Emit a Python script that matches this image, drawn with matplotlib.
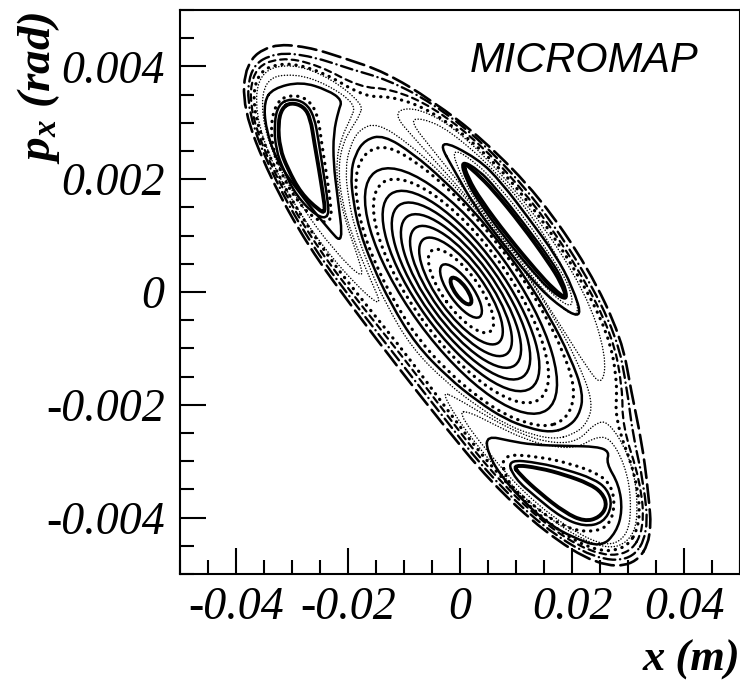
import numpy as np
import matplotlib
matplotlib.use("Agg")
import matplotlib.pyplot as plt
from matplotlib.patches import Circle, PathPatch
from matplotlib.path import Path
from matplotlib.transforms import Affine2D
from matplotlib.ticker import MultipleLocator, FixedLocator, FixedFormatter

plt.rcParams["axes.unicode_minus"] = False
plt.rcParams["mathtext.fontset"] = "custom"
plt.rcParams["mathtext.it"] = "Liberation Serif:italic:bold"
plt.rcParams["mathtext.rm"] = "Liberation Serif:bold"

# Tori around the fixed point are given in normalised phase space
# (amplitude, phase in deg); NORM maps them onto (x [m], px [rad]).
NORM = [[0.588 / 5625, 0.291 / 5625, 0.000178],
        [-0.809 / 56500, 0.212 / 56500, 0.0000177],
        [0.0, 0.0, 1.0]]

core_r = [16, 32, 50, 64, 78, 92, 106, 120, 134, 147]
core_style = ["thick", "solid", "dotted", "solid", "solid", "solid", "solid",
              "solid", "dotted", "solid"]

phase = [5, 20, 35, 50, 65, 80, 95, 110, 125, 140, 155, 170,
         185, 200, 215, 230, 245, 260, 275, 290, 305, 320, 335, 350]
t1_r = [166, 171, 176, 171, 166, 163, 161, 163, 166, 171, 176, 171,
        166, 163, 161, 163, 166, 171, 176, 171, 166, 163, 161, 163]
t2_r = [174, 182, 190, 182, 174, 170, 167, 170, 174, 182, 190, 182,
        174, 170, 167, 170, 174, 182, 190, 182, 174, 170, 167, 170]
t3_r = [183, 194, 205, 194, 183, 178, 175, 178, 183, 194, 205, 194,
        183, 178, 175, 178, 183, 194, 205, 194, 183, 178, 175, 178]
s2_r = [296, 270, 238, 262, 290, 298, 302, 298, 282, 258, 236, 264,
        292, 317, 322, 300, 270, 240, 228, 240, 270, 300, 316, 312]
s3_r = [302, 276, 250, 270, 297, 306, 310, 305, 290, 268, 248, 272,
        298, 322, 327, 306, 280, 252, 240, 250, 280, 306, 320, 318]
o2_r = [308, 282, 266, 278, 306, 316, 320, 312, 296, 280, 270, 282,
        304, 326, 331, 312, 290, 264, 254, 262, 290, 313, 326, 324]
o1_r = [314, 288, 280, 285, 315, 330, 333, 318, 300, 290, 283, 294,
        314, 332, 338, 320, 300, 276, 268, 276, 300, 320, 334, 330]

# separatrix lobes of the three islands (phase deg, amplitude)
ula_th = [162, 172, 184, 198, 212, 224, 234, 244, 252, 244, 230, 215, 200, 185, 172]
ula_r = [224, 250, 275, 303, 308, 298, 275, 245, 212, 198, 193, 191, 192, 196, 206]
ulb_th = [158, 168, 182, 198, 213, 226, 238, 250, 262, 250, 235, 220, 204, 188, 174, 164]
ulb_r = [226, 256, 285, 312, 318, 306, 282, 250, 208, 195, 190, 188, 188, 191, 198, 210]
ura_th = [67, 75, 90, 105, 120, 130, 136, 128, 115, 100, 85, 72]
ura_r = [238, 266, 284, 286, 274, 254, 234, 212, 192, 182, 183, 200]
urb_th = [45, 58, 75, 95, 115, 130, 144, 135, 120, 100, 80, 62, 50]
urb_r = [228, 262, 290, 296, 292, 270, 231, 206, 188, 179, 180, 190, 208]
loa_th = [295, 305, 320, 340, 355, 370, 380, 385, 378, 362, 345, 328, 312, 300]
loa_r = [226, 250, 284, 309, 300, 272, 252, 228, 208, 196, 187, 186, 192, 206]
lob_th = [288, 300, 318, 340, 358, 375, 386, 392, 384, 366, 348, 328, 308, 294]
lob_r = [222, 254, 292, 314, 304, 276, 256, 226, 204, 192, 183, 181, 188, 204]

# island tori measured directly in x [cm], px [mrad]
ul1_u = [-3.02, -2.79, -2.67, -2.60, -2.52, -2.45, -2.40, -2.52, -2.84, -3.08, -3.22, -3.25, -3.18]
ul1_v = [3.36, 3.29, 3.08, 2.64, 2.19, 1.75, 1.40, 1.45, 1.75, 2.19, 2.55, 2.99, 3.26]
ul2_u = [-3.02, -2.76, -2.60, -2.52, -2.45, -2.38, -2.33, -2.56, -2.92, -3.15, -3.29, -3.32, -3.24]
ul2_v = [3.43, 3.36, 3.11, 2.64, 2.19, 1.75, 1.31, 1.34, 1.70, 2.16, 2.53, 2.99, 3.33]
ul3_u = [-3.02, -2.72, -2.54, -2.47, -2.40, -2.33, -2.28, -2.58, -2.95, -3.20, -3.34, -3.38, -3.27]
ul3_v = [3.50, 3.43, 3.15, 2.64, 2.19, 1.73, 1.22, 1.27, 1.66, 2.12, 2.51, 2.99, 3.38]
ul4_u = [-3.34, -2.84, -2.36, -2.10, -2.17, -2.26, -2.26, -2.19, -2.08, -2.36, -2.84, -3.27, -3.47, -3.50]
ul4_v = [3.61, 3.73, 3.58, 3.40, 3.22, 2.81, 2.28, 1.72, 0.83, 1.13, 1.72, 2.32, 2.90, 3.38]

ur1_u = [0.04, 0.28, 0.60, 1.10, 1.58, 1.81, 1.92, 1.67, 1.37, 0.85, 0.37, 0.14]
ur1_v = [2.32, 2.12, 1.80, 1.19, 0.53, 0.16, -0.14, 0.05, 0.37, 0.99, 1.63, 2.02]
ur2_u = [0.00, 0.34, 0.64, 1.14, 1.62, 1.85, 1.94, 1.62, 1.32, 0.80, 0.34, 0.11]
ur2_v = [2.35, 2.16, 1.84, 1.22, 0.57, 0.19, -0.18, 0.02, 0.34, 0.96, 1.59, 1.98]
ur3_u = [-0.16, 0.28, 0.69, 1.19, 1.65, 1.96, 2.03, 1.69, 1.30, 0.76, 0.30, 0.00]
ur3_v = [2.57, 2.30, 1.88, 1.26, 0.60, 0.11, -0.30, -0.09, 0.34, 0.94, 1.58, 2.09]
ur4_u = [-0.43, 0.32, 0.75, 1.24, 1.71, 2.01, 2.20, 1.66, 1.23, 0.73, 0.25, -0.06]
ur4_v = [2.74, 2.37, 1.93, 1.29, 0.65, 0.09, -0.51, -0.17, 0.28, 0.90, 1.54, 2.08]

lo1_u = [0.94, 1.42, 1.87, 2.31, 2.54, 2.63, 2.49, 2.22, 1.87, 1.42, 1.07]
lo1_v = [-3.06, -3.12, -3.24, -3.40, -3.56, -3.79, -4.00, -4.07, -3.91, -3.56, -3.24]
lo2_u = [0.84, 1.42, 1.90, 2.38, 2.63, 2.72, 2.56, 2.22, 1.81, 1.35, 0.98]
lo2_v = [-2.97, -3.03, -3.15, -3.31, -3.49, -3.79, -4.09, -4.16, -4.00, -3.63, -3.31]
lo3_u = [0.71, 1.42, 1.96, 2.47, 2.70, 2.77, 2.65, 2.22, 1.74, 1.24, 0.85]
lo3_v = [-2.87, -2.92, -3.04, -3.22, -3.43, -3.79, -4.18, -4.27, -4.11, -3.73, -3.40]
lo4_u = [0.48, 0.89, 1.30, 1.90, 2.45, 2.67, 2.61, 2.84, 2.90, 2.79, 2.52, 2.01, 1.60, 1.19, 0.71, 0.48]
lo4_v = [-2.55, -2.64, -2.71, -2.73, -2.74, -2.83, -3.03, -3.42, -3.88, -4.26, -4.53, -4.35, -4.12, -3.77, -3.24, -2.81]

polar_curves = [
    (phase, t1_r, "dotted"), (phase, t2_r, "solid"), (phase, t3_r, "fine"),
    (ula_th, ula_r, "fine"), (ulb_th, ulb_r, "fine"),
    (ura_th, ura_r, "fine"), (urb_th, urb_r, "fine"),
    (loa_th, loa_r, "fine"), (lob_th, lob_r, "fine"),
    (phase, s2_r, "dotted"), (phase, s3_r, "short"),
    (phase, o2_r, "dashdot"), (phase, o1_r, "dashed"),
]
island_curves = [
    (ul1_u, ul1_v, "thick"), (ul2_u, ul2_v, "solid"), (ul3_u, ul3_v, "dotted"), (ul4_u, ul4_v, "solid"),
    (ur1_u, ur1_v, "thick"), (ur2_u, ur2_v, "solid"), (ur3_u, ur3_v, "fine"), (ur4_u, ur4_v, "solid"),
    (lo1_u, lo1_v, "thick"), (lo2_u, lo2_v, "solid"), (lo3_u, lo3_v, "dotted"), (lo4_u, lo4_v, "solid"),
]

xticks = [-0.04, -0.02, 0, 0.02, 0.04]
xtick_labels = ["-0.04", "-0.02", "0", "0.02", "0.04"]
yticks = [-0.004, -0.002, 0, 0.002, 0.004]
ytick_labels = ["-0.004", "-0.002", "0", "0.002", "0.004"]

STYLES = {
    "thick":   dict(lw=2.8, ls="-"),
    "solid":   dict(lw=1.8, ls="-"),
    "dotted":  dict(lw=2.3, ls=(0, (0.1, 2.1))),
    "fine":    dict(lw=1.1, ls=(0, (0.1, 1.8))),
    "short":   dict(lw=1.6, ls=(0, (3, 2.2))),
    "dashed":  dict(lw=1.9, ls=(0, (7, 2.5))),
    "dashdot": dict(lw=1.7, ls=(0, (5, 2, 0.1, 2))),
}


def closed_path(xs, ys):
    pts = np.column_stack([xs, ys])
    mids = (pts + np.roll(pts, -1, axis=0)) / 2
    verts = [mids[-1]]
    codes = [Path.MOVETO]
    for p, m in zip(pts, mids):
        verts += [p, m]
        codes += [Path.CURVE3, Path.CURVE3]
    return Path(verts, codes)


def polar_path(th, r):
    a = np.radians(th)
    r = np.asarray(r, dtype=float)
    return closed_path(r * np.cos(a), r * np.sin(a))


fig = plt.figure(figsize=(7.4, 6.84), dpi=100)
ax = fig.add_axes([180 / 740, 110 / 684, 560 / 740, 564 / 684])
ax.set_xlim(-0.05, 0.05)
ax.set_ylim(-0.005, 0.005)

to_norm = Affine2D(np.array(NORM)) + ax.transData
to_cm = Affine2D().scale(0.01, 0.001) + ax.transData

for r, st in zip(core_r, core_style):
    ax.add_patch(Circle((0, 0), r, fill=False, ec="k", capstyle="round",
                        transform=to_norm, **STYLES[st]))

for th, r, st in polar_curves:
    ax.add_patch(PathPatch(polar_path(th, r), fill=False, ec="k",
                           capstyle="round", transform=to_norm, **STYLES[st]))

for us, vs, st in island_curves:
    ax.add_patch(PathPatch(closed_path(us, vs), fill=False, ec="k",
                           capstyle="round", transform=to_cm, **STYLES[st]))

for s in ax.spines.values():
    s.set_linewidth(1.5)
ax.xaxis.set_major_locator(FixedLocator(xticks))
ax.xaxis.set_major_formatter(FixedFormatter(xtick_labels))
ax.yaxis.set_major_locator(FixedLocator(yticks))
ax.yaxis.set_major_formatter(FixedFormatter(ytick_labels))
ax.xaxis.set_minor_locator(MultipleLocator(0.005))
ax.yaxis.set_minor_locator(MultipleLocator(0.0005))
ax.tick_params(which="both", direction="in", width=1.5, top=False, right=False)
ax.tick_params(which="major", length=19)
ax.tick_params(which="minor", length=10)
ax.tick_params(axis="y", pad=11)
ax.tick_params(axis="x", pad=9)
for lab in ax.get_xticklabels() + ax.get_yticklabels():
    lab.set_fontfamily("Liberation Serif")
    lab.set_fontstyle("italic")
    lab.set_fontsize(33)

ax.text(0.518, 0.89, "MICROMAP", transform=ax.transAxes, fontsize=30,
        family="Liberation Sans", style="italic", va="baseline")
fig.text(38 / 740, 1 - 88 / 684, r"$p_x$ (rad)", rotation=90, ha="center", va="center",
         fontsize=34, family="Liberation Serif", style="italic", weight="bold")
fig.text(643 / 740, 13 / 684, "x (m)", ha="left", va="baseline",
         fontsize=32, family="Liberation Serif", style="italic", weight="bold")

fig.savefig("out.png", dpi=100)
